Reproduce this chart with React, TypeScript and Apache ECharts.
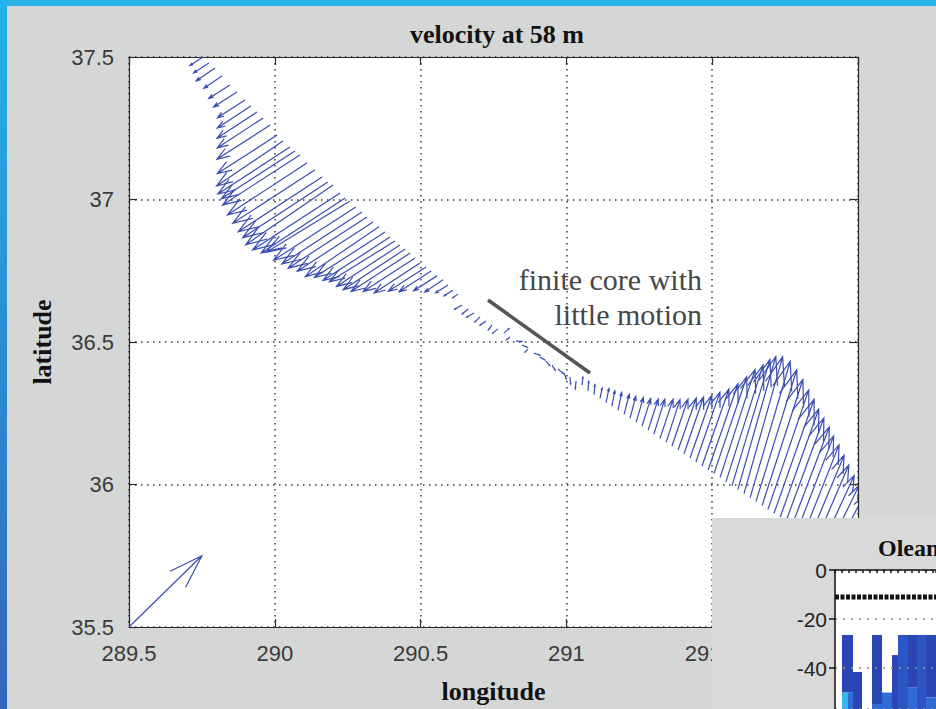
import React, { useEffect, useRef } from "react";
import * as echarts from "echarts";

// ---------- axis tick labels ----------
const lonTickLabels = ["289.5", "290", "290.5", "291", "291.5", "292"];
const latTickLabels = ["35.5", "36", "36.5", "37", "37.5"];
const insetDepthLabels = ["0", "-20", "-40", "-60"];

// ---------- velocity vectors (cm/s) along the track ----------
// northern band (flow toward south-west)
const northLon = [289.754, 289.774, 289.795, 289.819, 289.846, 289.870, 289.898, 289.918, 289.939, 289.960, 289.984, 290.008, 290.028, 290.052, 290.069, 290.086, 290.110, 290.138, 290.162, 290.182, 290.200, 290.224, 290.241, 290.258, 290.278, 290.299, 290.316, 290.337, 290.357, 290.378, 290.395, 290.412, 290.429, 290.447, 290.464, 290.481, 290.498, 290.519, 290.536, 290.556, 290.577, 290.594, 290.611, 290.628];
const northLat = [37.500, 37.479, 37.461, 37.433, 37.402, 37.377, 37.349, 37.328, 37.307, 37.286, 37.261, 37.226, 37.205, 37.184, 37.170, 37.156, 37.128, 37.104, 37.079, 37.061, 37.051, 37.023, 37.005, 36.995, 36.974, 36.956, 36.939, 36.921, 36.904, 36.886, 36.868, 36.854, 36.840, 36.826, 36.812, 36.795, 36.777, 36.763, 36.749, 36.732, 36.718, 36.700, 36.682, 36.668];
const northU = [-18, -21, -26, -25, -29, -32, -38, -46, -55, -63, -73, -82, -91, -99, -101, -106, -109, -113, -115, -117, -120, -120, -115, -115, -113, -110, -108, -104, -101, -97, -92, -90, -87, -85, -81, -71, -63, -52, -44, -32, -25, -17, -12, -7];
const northV = [-12, -14, -18, -17, -19, -21, -25, -31, -37, -42, -48, -54, -63, -66, -67, -70, -73, -75, -77, -78, -84, -80, -77, -72, -75, -73, -72, -69, -70, -64, -61, -57, -58, -57, -54, -47, -42, -34, -29, -21, -17, -11, -8, -5];

// core with little motion
const coreLon = [290.642, 290.663, 290.683, 290.704, 290.724, 290.745, 290.765, 290.786, 290.807, 290.827, 290.848, 290.868, 290.889, 290.909, 290.930, 290.951, 290.971, 290.992, 291.012, 291.033, 291.054];
const coreLat = [36.630, 36.616, 36.602, 36.588, 36.574, 36.560, 36.546, 36.532, 36.518, 36.504, 36.489, 36.475, 36.461, 36.447, 36.433, 36.419, 36.405, 36.391, 36.377, 36.363, 36.349];
const coreU = [-10, -8, -10, -7, -8, -5, -7, 7, -5, 8, 7, -4, 8, 7, 5, 4, 7, 3, 1, -1, 1];
const coreV = [-6, -7, -6, -7, -6, -7, -6, 6, -4, -1, -3, -4, -3, -4, -6, -7, -6, -8, -10, -11, 11];

// southern band (flow toward north-north-east)
const southLon = [291.074, 291.095, 291.115, 291.136, 291.156, 291.177, 291.198, 291.218, 291.239, 291.259, 291.280, 291.300, 291.321, 291.342, 291.362, 291.383, 291.403, 291.424, 291.444, 291.465, 291.486, 291.506, 291.527, 291.547, 291.568, 291.588, 291.609, 291.630, 291.650, 291.671, 291.691, 291.712, 291.733, 291.753, 291.774, 291.794, 291.815, 291.835, 291.856, 291.877, 291.897, 291.918, 291.938, 291.959];
const southLat = [36.329, 36.315, 36.301, 36.287, 36.274, 36.260, 36.246, 36.232, 36.218, 36.204, 36.190, 36.177, 36.162, 36.148, 36.135, 36.121, 36.107, 36.093, 36.079, 36.065, 36.051, 36.038, 36.024, 36.009, 35.996, 35.982, 35.968, 35.954, 35.940, 35.926, 35.912, 35.899, 35.885, 35.871, 35.857, 35.843, 35.829, 35.815, 35.801, 35.787, 35.773, 35.760, 35.746, 35.732];
const southU = [1, 1, 3, 4, 4, 5, 7, 8, 10, 12, 14, 15, 18, 19, 22, 25, 27, 30, 33, 37, 41, 45, 48, 51, 52, 52, 53, 55, 56, 56, 56, 55, 53, 52, 51, 49, 48, 47, 45, 44, 43, 41, 40, 38];
const southV = [13, 14, 15, 20, 22, 25, 28, 31, 35, 39, 44, 49, 55, 60, 66, 73, 80, 88, 98, 108, 121, 136, 152, 164, 177, 187, 192, 191, 185, 177, 168, 160, 152, 145, 138, 131, 124, 115, 107, 98, 90, 81, 73, 65];

// reference (scale) vector
const refLon = [289.5];
const refLat = [35.5];
const refU = [100];
const refV = [100];

// ---------- inset (Oleander section) cells: distance units, depth in m ----------
const insetX0 = [0.7, 0.7, 1.3, 1.8, 3.7, 3.7, 4.7, 5.7, 6.3, 7.3, 7.3, 8.2, 9.1, 9.1];
const insetX1 = [1.8, 1.3, 1.8, 2.7, 4.7, 4.7, 5.7, 6.3, 7.3, 8.2, 8.2, 9.1, 10.2, 10.2];
const insetTop = [26.5, 50, 50, 41.6, 26.5, 55, 50, 34.7, 26.5, 26.5, 48, 26.5, 26.5, 52];
const insetBottom = [50, 60, 60, 60, 55, 60, 60, 60, 60, 48, 60, 60, 52, 60];
const insetShade = [0, 2, 1, 0, 0, 1, 1, 0, 3, 0, 1, 3, 0, 1];
const insetMarkerDepth = 11;

const SCALE = 0.0025; // degrees per cm/s
const ARROW_COLOR = "#3a4db0";
const SHADES = ["#2a46b4", "#2f6cd6", "#38b4ee", "#2d55c4"];

function buildArrows(lon: number[], lat: number[], u: number[], v: number[]) {
  return lon.map((x, i) => [x, lat[i], u[i], v[i]]);
}

function makeArrowRenderer(alpha: number, beta: number, width: number) {
  return (params: any, api: any) => {
    const lon = api.value(0);
    const lat = api.value(1);
    const u = api.value(2);
    const v = api.value(3);
    const p0 = api.coord([lon, lat]);
    const p1 = api.coord([lon + u * SCALE, lat + v * SCALE]);
    const dx = p1[0] - p0[0];
    const dy = p1[1] - p0[1];
    const h1 = [p1[0] - alpha * (dx + beta * dy), p1[1] - alpha * (dy - beta * dx)];
    const h2 = [p1[0] - alpha * (dx - beta * dy), p1[1] - alpha * (dy + beta * dx)];
    return {
      type: "polyline",
      shape: { points: [p0, p1, h1, p1, h2] },
      style: { stroke: ARROW_COLOR, fill: null, lineWidth: width },
    };
  };
}

export default function App() {
  const ref = useRef<HTMLDivElement>(null);

  useEffect(() => {
    if (!ref.current) return;
    const chart = echarts.init(ref.current, null, { renderer: "svg" });

    const arrows = [
      ...buildArrows(northLon, northLat, northU, northV),
      ...buildArrows(coreLon, coreLat, coreU, coreV),
      ...buildArrows(southLon, southLat, southU, southV),
    ];
    const refArrow = buildArrows(refLon, refLat, refU, refV);
    const insetCells = insetX0.map((x, i) => [x, insetX1[i], insetTop[i], insetBottom[i], insetShade[i]]);

    const axisColor = "#2b2b2b";
    const labelFont = { fontFamily: "Liberation Sans", fontSize: 22, color: "#3a3a3a" };
    const nameFont = { fontFamily: "Liberation Serif", fontWeight: "bold" as const, fontSize: 26, color: "#111" };

    chart.setOption({
      animation: false,
      backgroundColor: "#d5d7d6",
      title: {
        text: "velocity at 58 m",
        left: 492,
        top: 16,
        textAlign: "center",
        textStyle: { fontFamily: "Liberation Serif", fontWeight: "bold", fontSize: 26, color: "#111" },
      },
      grid: [
        { left: 129, top: 57, width: 729, height: 570, show: true, backgroundColor: "#ffffff", borderWidth: 0 },
        { left: 835, top: 570, width: 101, height: 139, show: true, backgroundColor: "#ffffff", borderWidth: 0, z: 60 },
      ],
      xAxis: [
        {
          gridIndex: 0, type: "value", min: 289.5, max: 292, interval: 0.5, position: "bottom",
          axisLine: { show: true, onZero: false, lineStyle: { color: axisColor, width: 1.2 } },
          axisTick: { show: true, inside: true, length: 8, lineStyle: { color: axisColor, width: 1.2 } },
          axisLabel: {
            show: true, margin: 15, ...labelFont, showMinLabel: true, showMaxLabel: true,
            formatter: (val: number) => lonTickLabels[Math.round((val - 289.5) / 0.5)] ?? "",
          },
          splitLine: { show: true, lineStyle: { color: "#3a3a3a", width: 1.5, type: [1.5, 4.5] } },
          name: "longitude", nameLocation: "middle", nameGap: 51, nameTextStyle: nameFont,
        },
        {
          gridIndex: 0, type: "value", min: 289.5, max: 292, interval: 0.5, position: "top",
          axisLine: { show: true, onZero: false, lineStyle: { color: axisColor, width: 1.2 } },
          axisTick: { show: true, inside: true, length: 8, lineStyle: { color: axisColor, width: 1.2 } },
          axisLabel: { show: false }, splitLine: { show: false },
        },
        {
          gridIndex: 1, type: "value", min: 0, max: 10.1, interval: 0.7, position: "top", z: 62,
          axisLine: { show: true, onZero: false, lineStyle: { color: "#111", width: 1.5 } },
          axisTick: { show: true, inside: true, length: 3, lineStyle: { color: "#111", width: 1.5 } },
          axisLabel: { show: false }, splitLine: { show: false },
        },
      ],
      yAxis: [
        {
          gridIndex: 0, type: "value", min: 35.5, max: 37.5, interval: 0.5, position: "left",
          axisLine: { show: true, onZero: false, lineStyle: { color: axisColor, width: 1.2 } },
          axisTick: { show: true, inside: true, length: 8, lineStyle: { color: axisColor, width: 1.2 } },
          axisLabel: {
            show: true, margin: 15, ...labelFont, showMinLabel: true, showMaxLabel: true,
            formatter: (val: number) => latTickLabels[Math.round((val - 35.5) / 0.5)] ?? "",
          },
          splitLine: { show: true, lineStyle: { color: "#3a3a3a", width: 1.5, type: [1.5, 4.5] } },
          name: "latitude", nameLocation: "middle", nameGap: 74, nameTextStyle: nameFont,
        },
        {
          gridIndex: 0, type: "value", min: 35.5, max: 37.5, interval: 0.5, position: "right",
          axisLine: { show: true, onZero: false, lineStyle: { color: axisColor, width: 1.2 } },
          axisTick: { show: true, inside: true, length: 8, lineStyle: { color: axisColor, width: 1.2 } },
          axisLabel: { show: false }, splitLine: { show: false },
        },
        {
          gridIndex: 1, type: "value", min: 0, max: 56.7, interval: 20, inverse: true, position: "left", z: 62,
          axisLine: { show: true, onZero: false, lineStyle: { color: "#111", width: 1.5 } },
          axisTick: { show: true, inside: false, length: 6, lineStyle: { color: "#111", width: 1.5 } },
          axisLabel: {
            show: true, margin: 8, fontFamily: "Liberation Sans", fontSize: 21, color: "#222", showMaxLabel: false,
            formatter: (val: number) => insetDepthLabels[Math.round(val / 20)] ?? "",
          },
          splitLine: { show: true, lineStyle: { color: "#8a8a8a", width: 1.5, type: [2, 6] } },
        },
      ],
      series: [
        {
          type: "custom", name: "velocity", xAxisIndex: 0, yAxisIndex: 0, clip: true,
          data: arrows, encode: { x: 0, y: 1 }, renderItem: makeArrowRenderer(0.2, 0.35, 1.2), z: 5,
        },
        {
          type: "custom", name: "scale", xAxisIndex: 0, yAxisIndex: 0, clip: false,
          data: refArrow, encode: { x: 0, y: 1 }, renderItem: makeArrowRenderer(0.33, 0.33, 1.2), z: 5,
        },
        {
          type: "custom", name: "inset", xAxisIndex: 2, yAxisIndex: 2, clip: true, z: 61,
          data: insetCells, encode: { x: 0, y: 2 },
          renderItem: (params: any, api: any) => {
            const a = api.coord([api.value(0), api.value(2)]);
            const b = api.coord([api.value(1), api.value(3)]);
            return {
              type: "rect",
              shape: { x: a[0], y: a[1], width: b[0] - a[0], height: b[1] - a[1] },
              style: { fill: SHADES[api.value(4)] },
            };
          },
        },
        {
          type: "line", name: "marker", xAxisIndex: 2, yAxisIndex: 2, z: 63, symbol: "none",
          data: [[0, insetMarkerDepth], [10.1, insetMarkerDepth]],
          lineStyle: { color: "#111", width: 5, type: [4, 1.5] },
        },
      ],
      graphic: [
        { type: "rect", z: 50, shape: { x: 712, y: 518, width: 224, height: 191 }, style: { fill: "#d8d9d8" } },
        {
          type: "text", z: 64, x: 878, y: 548,
          style: { text: "Oleander", fontFamily: "Liberation Serif", fontWeight: "bold", fontSize: 24, fill: "#111", textVerticalAlign: "middle", textAlign: "left" },
        },
        {
          type: "line", z: 20, shape: { x1: 488, y1: 300, x2: 590, y2: 373 },
          style: { stroke: "#555", lineWidth: 3.5 },
        },
        {
          type: "text", z: 20, x: 702, y: 262,
          style: { text: "finite core with\nlittle motion", fontFamily: "Liberation Serif", fontSize: 30, lineHeight: 35, fill: "#474747", textAlign: "right", textVerticalAlign: "top" },
        },
        { type: "rect", z: 100, shape: { x: 0, y: 0, width: 936, height: 6 }, style: { fill: "#2ab3e6" } },
        {
          type: "rect", z: 100, shape: { x: 0, y: 0, width: 7, height: 709 },
          style: { fill: new echarts.graphic.LinearGradient(0, 0, 0, 1, [{ offset: 0, color: "#22b2ea" }, { offset: 1, color: "#3466be" }]) },
        },
      ],
    });

    return () => chart.dispose();
  }, []);

  return (
    <div style={{ position: "fixed", left: 0, top: 0, width: 936, height: 709 }}>
      <div ref={ref} style={{ width: 936, height: 709 }} />
    </div>
  );
}
